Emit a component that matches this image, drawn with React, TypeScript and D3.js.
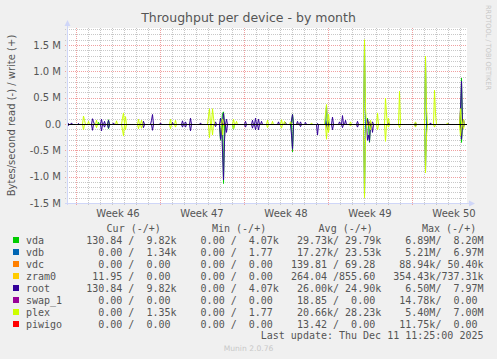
import React from "react";
import * as d3 from "d3";

const W = 497;
const H = 359;

// time axis: 2-hour samples, day offsets relative to Monday 2025-11-10 (week 46)
const WEEK46 = Date.UTC(2025, 10, 10);
const X_START = new Date(Date.UTC(2025, 10, 9, 6));
const X_END = new Date(Date.UTC(2025, 11, 12, 14));
const LAST_DATA_DAY = 32.33;
const STEP_H = 2;

const yTickValues = [-1.5, -1.0, -0.5, 0, 0.5, 1.0, 1.5];
const yTickLabels = ["-1.5 M", "-1.0 M", "-0.5 M", "0.0", "0.5 M", "1.0 M", "1.5 M"];
const weekLabels = ["Week 46", "Week 47", "Week 48", "Week 49", "Week 50"];

const devices = ["vda", "vdb", "vdc", "zram0", "root", "swap_1", "plex", "piwigo"];
const colors = ["#00CC00", "#0066B3", "#FF8000", "#FFCC00", "#330099", "#990099", "#CCFF00", "#FF0000"];

const curCol = ["130.84 /  9.82k", "  0.00 /  1.34k", "  0.00 /  0.00 ", " 11.95 /  0.00 ", "130.84 /  9.82k", "  0.00 /  0.00 ", "  0.00 /  1.35k", "  0.00 /  0.00 "];
const minCol = ["  0.00 /  4.07k", "  0.00 /  1.77 ", "  0.00 /  0.00 ", "  0.00 /  0.00 ", "  0.00 /  4.07k", "  0.00 /  0.00 ", "  0.00 /  1.77 ", "  0.00 /  0.00 "];
const avgCol = [" 29.73k/ 29.79k", " 17.27k/ 23.53k", "139.81 / 69.28 ", "264.04 /855.60 ", " 26.00k/ 24.90k", " 18.85 /  0.00 ", " 20.66k/ 28.23k", " 13.42 /  0.00 "];
const maxCol = ["  6.89M/  8.20M", "  5.21M/  6.97M", " 88.94k/ 50.40k", "354.43k/737.31k", "  6.50M/  7.97M", " 14.78k/  0.00 ", "  5.40M/  7.00M", " 11.75k/  0.00 "];
const headers = ["Cur (-/+)", "Min (-/+)", "Avg (-/+)", "Max (-/+)"];

// spikes: [day offset from week-46 Monday, MB/s]; write is plotted up, read down
const vdaWrite = [[1.83, 0.04], [2.67, 0.09], [12.17, 0.21], [12.25, 0.24], [18.0, 0.2], [20.92, 0.1], [24.25, 0.12], [32.08, 0.88]];
const vdaRead = [[2.67, 0.08], [12.0, 0.3], [12.25, 1.12], [13.08, 0.09], [18.0, 0.52], [24.42, 0.34], [32.08, 0.34]];
const vdbWrite = [[24.0, 1.58], [29.08, 1.27], [20.83, 0.36]];
const vdbRead = [[24.0, 1.36], [29.08, 0.9]];
const vdcWrite = [[24.42, 0.04]];
const vdcRead = [[24.42, 0.02]];
const zram0Write = [[18.42, 0.02], [24.33, 0.06]];
const zram0Read = [[24.33, 0.03]];
const rootWrite = [[-0.67, 0.02], [-0.42, 0.03], [0.17, 0.02], [1.33, 0.11], [1.42, 0.05], [2.08, 0.1], [2.33, 0.06], [2.67, 0.08], [3.08, 0.03], [5.58, 0.06], [6.25, 0.08], [6.33, 0.19], [7.0, 0.03], [8.0, 0.04], [8.83, 0.07], [9.08, 0.05], [9.5, 0.12], [10.33, 0.03], [11.58, 0.05], [12.0, 0.12], [12.25, 0.22], [12.5, 0.1], [14.08, 0.06], [14.67, 0.08], [14.92, 0.12], [15.17, 0.1], [15.42, 0.06], [16.83, 0.05], [17.42, 0.04], [17.92, 0.08], [18.0, 0.19], [18.42, 0.06], [18.67, 0.05], [19.08, 0.04], [20.08, 0.02], [20.92, 0.08], [21.33, 0.14], [21.92, 0.05], [22.17, 0.17], [22.42, 0.08], [23.42, 0.06], [24.25, 0.1], [24.42, 0.05], [24.67, 0.05], [26.0, 0.03], [28.25, 0.03], [29.0, 0.02], [29.5, 0.03], [31.0, 0.02], [32.0, 0.3], [32.08, 0.82], [32.25, 0.1]];
const rootRead = [[-0.67, 0.02], [1.33, 0.11], [2.08, 0.12], [2.33, 0.05], [2.67, 0.07], [5.58, 0.06], [6.33, 0.11], [8.83, 0.05], [9.08, 0.05], [9.5, 0.12], [11.58, 0.04], [12.0, 0.28], [12.17, 0.5], [12.25, 1.05], [12.33, 0.3], [12.5, 0.15], [14.08, 0.05], [14.67, 0.07], [14.92, 0.1], [15.17, 0.1], [17.92, 0.2], [18.0, 0.47], [18.67, 0.04], [20.08, 0.2], [20.92, 0.1], [21.33, 0.1], [22.17, 0.06], [23.42, 0.05], [24.25, 0.3], [24.33, 0.2], [24.42, 0.32], [24.67, 0.15], [28.25, 0.03], [32.08, 0.28], [32.25, 0.05]];
const swap1Write = [[24.33, 0.01]];
const swap1Read = [[24.33, 0.01]];
const plexWrite = [[0.58, 0.16], [0.67, 0.08], [1.0, 0.06], [1.67, 0.08], [3.33, 0.07], [3.83, 0.12], [3.92, 0.22], [4.08, 0.15], [5.17, 0.1], [5.42, 0.08], [7.83, 0.1], [8.25, 0.08], [11.0, 0.15], [11.08, 0.3], [11.33, 0.3], [11.42, 0.12], [12.17, 0.1], [13.08, 0.1], [13.33, 0.06], [15.92, 0.08], [16.33, 0.06], [17.08, 0.09], [17.33, 0.06], [17.83, 0.05], [19.58, 0.03], [20.75, 0.2], [20.83, 0.38], [21.0, 0.2], [22.83, 0.05], [24.0, 1.61], [24.08, 0.3], [24.5, 0.08], [25.08, 0.22], [25.75, 0.5], [25.83, 0.2], [26.0, 0.12], [26.92, 0.63], [28.25, 0.05], [29.08, 1.3], [29.17, 0.3], [29.83, 0.65], [29.92, 0.2], [30.92, 0.03], [32.0, 0.3], [32.25, 0.1]];
const plexRead = [[0.58, 0.1], [1.67, 0.06], [3.83, 0.1], [3.92, 0.22], [4.08, 0.1], [5.17, 0.08], [5.42, 0.07], [7.83, 0.08], [8.25, 0.05], [11.08, 0.25], [11.33, 0.2], [12.17, 0.2], [13.08, 0.08], [15.92, 0.06], [17.08, 0.07], [20.83, 0.28], [21.0, 0.15], [22.83, 0.03], [24.0, 1.39], [24.08, 0.25], [24.5, 0.1], [25.08, 0.1], [25.75, 0.32], [26.0, 0.05], [26.92, 0.06], [28.25, 0.05], [29.08, 0.92], [29.17, 0.2], [29.83, 0.05], [32.0, 0.22], [32.25, 0.08]];
const piwigoWrite = [[12.25, 0.005]];
const piwigoRead = [[12.33, 0.01]];

const writes = [vdaWrite, vdbWrite, vdcWrite, zram0Write, rootWrite, swap1Write, plexWrite, piwigoWrite];
const reads = [vdaRead, vdbRead, vdcRead, zram0Read, rootRead, swap1Read, plexRead, piwigoRead];

const PLOT = { left: 67, right: 467, top: 28, bottom: 203 };

function buildSeries(spikes: number[][], sign: number): [Date, number][] {
  const startOffsetDays = (WEEK46 - X_START.getTime()) / 86400000;
  const n = Math.round((LAST_DATA_DAY + startOffsetDays) * (24 / STEP_H)) + 1;
  const vals = new Array(n).fill(0);
  for (const [d, v] of spikes) {
    const idx = Math.round((d + startOffsetDays) * (24 / STEP_H));
    if (idx >= 0 && idx < n) vals[idx] = Math.max(vals[idx], v);
  }
  return vals.map((v, i) => [d3.utcHour.offset(X_START, i * STEP_H), sign * v * 1e6]);
}

export default function App() {
  const x = d3.scaleUtc().domain([X_START, X_END]).range([PLOT.left, PLOT.right]);
  const y = d3.scaleLinear().domain([-1.5e6, 1.8228e6]).range([PLOT.bottom, PLOT.top]);

  const minorY = d3.range(-15, 19).map((k) => k * 1e5);
  const majorY = yTickValues.map((v) => v * 1e6);
  const days = d3.utcDay.range(X_START, X_END);
  const mondays = d3.utcMonday.range(X_START, X_END);

  const line = d3
    .line<[Date, number]>()
    .x((d) => x(d[0]) + 0.5)
    .y((d) => y(d[1]) + 0.5);

  const mono = "'DejaVu Sans Mono', monospace";
  const sans = "'DejaVu Sans', sans-serif";
  const fontColor = "#555555";
  const axisColor = "#CFD6F8";

  const legendTop = 243.5;
  const rowH = 12;
  const headerX = [133.7, 239.1, 345.7, 449.1];
  const zeroY = Math.round(y(0)) + 0.5;

  return (
    <svg
      width={W}
      height={H}
      viewBox={`0 0 ${W} ${H}`}
      style={{ position: "absolute", left: 0, top: 0, display: "block" }}
    >
      <rect x={0} y={0} width={W} height={H} fill="#F0F0F0" />
      <rect x={PLOT.left} y={PLOT.top} width={PLOT.right - PLOT.left} height={PLOT.bottom - PLOT.top} fill="#FFFFFF" />

      {/* minor grid */}
      <g stroke="#C8C8C8" strokeWidth={1} strokeDasharray="1,1" shapeRendering="crispEdges">
        {minorY.map((v) => (
          <line key={"hy" + v} x1={PLOT.left - 2} x2={PLOT.right} y1={Math.round(y(v)) + 0.5} y2={Math.round(y(v)) + 0.5} />
        ))}
        {days.map((d) => (
          <line key={"vx" + d.getTime()} x1={Math.round(x(d)) + 0.5} x2={Math.round(x(d)) + 0.5} y1={PLOT.top} y2={PLOT.bottom + 2} />
        ))}
      </g>
      {/* major grid */}
      <g stroke="#F0A0A0" strokeWidth={1} strokeDasharray="1,1" shapeRendering="crispEdges">
        {majorY.map((v) => (
          <line key={"My" + v} x1={PLOT.left - 2} x2={PLOT.right} y1={Math.round(y(v)) + 0.5} y2={Math.round(y(v)) + 0.5} />
        ))}
        {mondays.map((d) => (
          <line key={"Mx" + d.getTime()} x1={Math.round(x(d)) + 0.5} x2={Math.round(x(d)) + 0.5} y1={PLOT.top} y2={PLOT.bottom + 2} />
        ))}
      </g>

      {/* data */}
      <g fill="none" strokeWidth={1}>
        {devices.map((dev, i) => (
          <g key={dev} stroke={colors[i]}>
            <path d={line(buildSeries(reads[i], -1)) || ""} />
            <path d={line(buildSeries(writes[i], 1)) || ""} />
          </g>
        ))}
      </g>

      {/* zero line */}
      <line x1={PLOT.left} x2={PLOT.right} y1={zeroY} y2={zeroY} stroke="#000000" strokeWidth={1} shapeRendering="crispEdges" />

      {/* axes */}
      <g stroke={axisColor} strokeWidth={1} shapeRendering="crispEdges">
        <line x1={PLOT.left + 0.5} x2={PLOT.left + 0.5} y1={PLOT.bottom + 2} y2={PLOT.top - 4} />
        <line x1={PLOT.left - 2} x2={PLOT.right + 3} y1={PLOT.bottom + 0.5} y2={PLOT.bottom + 0.5} />
      </g>
      <path d={`M${PLOT.left - 2.5},${PLOT.top - 2} L${PLOT.left + 3.5},${PLOT.top - 2} L${PLOT.left + 0.5},${PLOT.top - 8} Z`} fill={axisColor} />
      <path d={`M${PLOT.right + 2},${PLOT.bottom - 2.5} L${PLOT.right + 2},${PLOT.bottom + 3.5} L${PLOT.right + 8},${PLOT.bottom + 0.5} Z`} fill={axisColor} />

      {/* y tick labels */}
      <g fontFamily={sans} fontSize={10} fill={fontColor} textAnchor="end">
        {yTickValues.map((v, i) => (
          <text key={"yl" + v} x={61} y={y(v * 1e6) + 3.6}>
            {yTickLabels[i]}
          </text>
        ))}
      </g>

      {/* week labels */}
      <g fontFamily={sans} fontSize={10} fill={fontColor} textAnchor="middle">
        {mondays.map((d, i) => (
          <text key={"wl" + i} x={x(d3.utcHour.offset(d, 84))} y={216.5}>
            {weekLabels[i]}
          </text>
        ))}
      </g>

      {/* title */}
      <text x={248.5} y={22} textAnchor="middle" fontFamily={sans} fontSize={12.5} fill={fontColor}>
        Throughput per device - by month
      </text>

      {/* y axis title */}
      <text
        transform={`translate(14.5, ${(PLOT.top + PLOT.bottom) / 2}) rotate(-90)`}
        textAnchor="middle"
        fontFamily={sans}
        fontSize={10}
        fill={fontColor}
      >
        Bytes/second read (-) / write (+)
      </text>

      {/* watermark */}
      <text
        transform="translate(486, 5) rotate(90)"
        fontFamily={sans}
        fontSize={7}
        fill="#C8C8C8"
        textLength={85}
        lengthAdjust="spacingAndGlyphs"
      >
        RRDTOOL / TOBI OETIKER
      </text>

      {/* legend header */}
      <g fontFamily={mono} fontSize={10} fill={fontColor} textAnchor="middle">
        {headers.map((h, i) => (
          <text key={h} x={headerX[i]} y={legendTop - rowH + 0.5} style={{ whiteSpace: "pre" }}>
            {h}
          </text>
        ))}
      </g>

      {/* legend rows */}
      <g fontFamily={mono} fontSize={10} fill={fontColor}>
        {devices.map((dev, i) => {
          const by = legendTop + i * rowH;
          const s = dev.padEnd(10, " ") + curCol[i] + "  " + minCol[i] + "  " + avgCol[i] + "  " + maxCol[i];
          return (
            <g key={"lg" + dev}>
              <rect x={13} y={by - 6.5} width={6} height={6} fill={colors[i]} />
              <text x={26} y={by} xmlSpace="preserve" style={{ whiteSpace: "pre" }}>
                {s}
              </text>
            </g>
          );
        })}
        <text x={483.5} y={legendTop + devices.length * rowH - 0.5} textAnchor="end" style={{ whiteSpace: "pre" }}>
          Last update: Thu Dec 11 11:25:00 2025
        </text>
      </g>

      <text x={248.5} y={350.5} textAnchor="middle" fontFamily={sans} fontSize={7.6} fill="#C8C8C8">
        Munin 2.0.76
      </text>
    </svg>
  );
}
